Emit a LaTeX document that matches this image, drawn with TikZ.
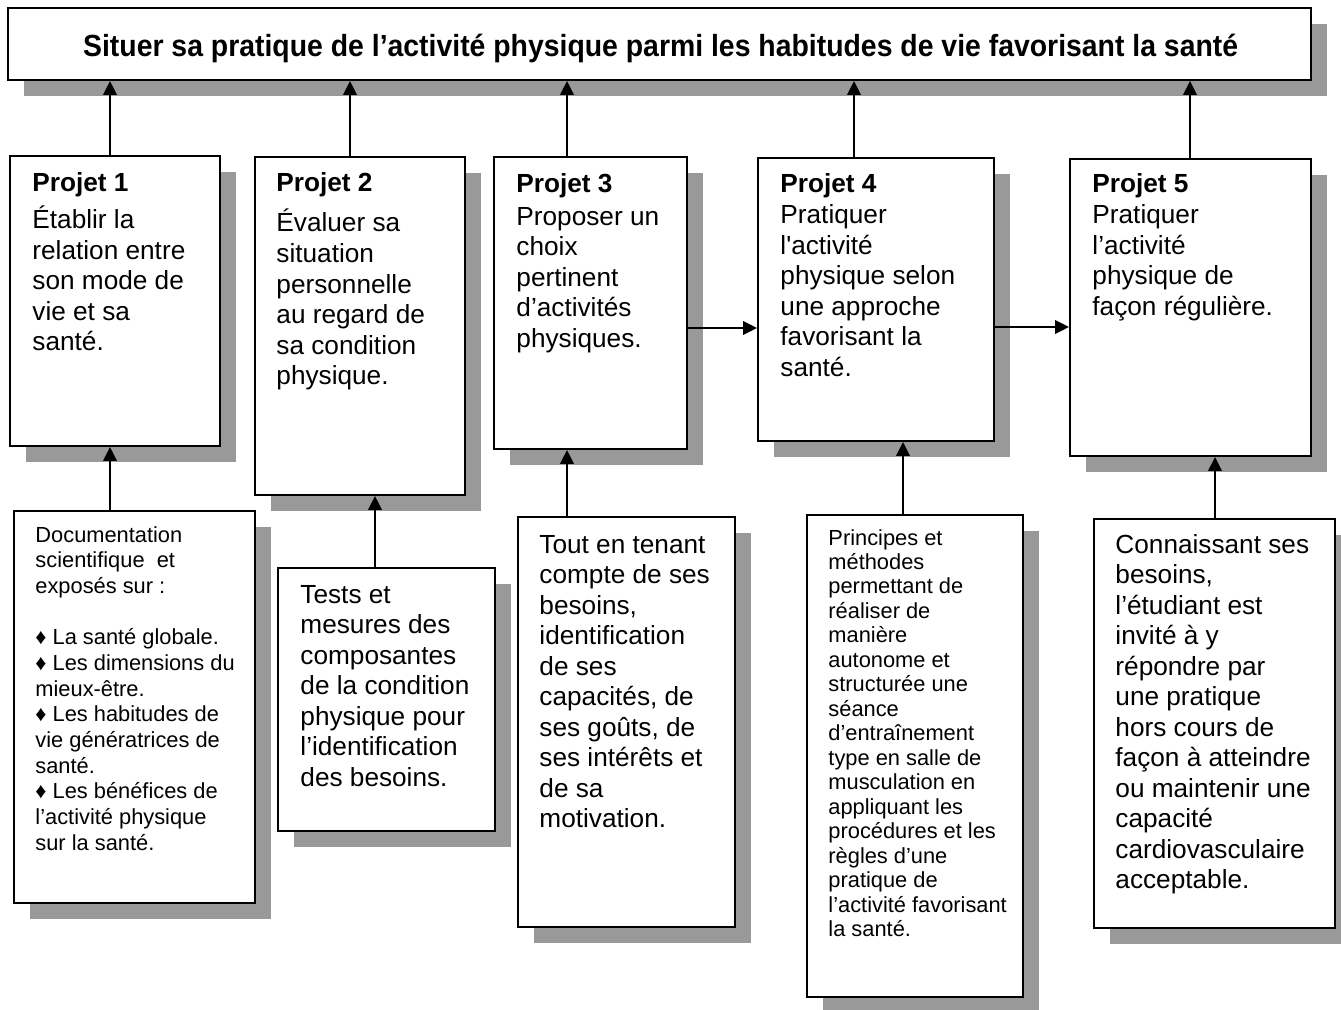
\documentclass[tikz,border=0pt]{standalone}
\usepackage{fontspec}
\newfontfamily\arialf{Liberation Sans}
\usetikzlibrary{arrows.meta,fit,shadows}
\definecolor{shadowc}{HTML}{999999}
\newsavebox\ttlbox
\newlength\ttlw
\newcommand\ptf{\arialf\fontsize{12}{13.97}\selectfont}
\newcommand\sfA{\arialf\fontsize{10}{11.77}\selectfont}
\newcommand\sfB{\arialf\fontsize{10}{11.22}\selectfont}
\begin{document}%
\sbox\ttlbox{\arialf\bfseries\fontsize{14}{16}\selectfont Situer sa pratique de l’activité physique parmi les habitudes de vie favorisant la santé}%
\setlength\ttlw{\wd\ttlbox}%
\pgfmathsetmacro\tsx{528.99/\ttlw}%
\begin{tikzpicture}[x=0.458pt,y=-0.458pt,
  box/.style={draw=black, line width=0.9pt, fill=white, inner sep=0pt,
    drop shadow={shadow xshift=7.33pt, shadow yshift=-7.33pt, fill=shadowc, opacity=1}},
  arr/.style={line width=0.9pt, -{Triangle[length=6.4pt,width=6.2pt]}},
  txt/.style={anchor=base west, inner sep=0pt}]
\useasboundingbox (0,0) rectangle (1341,1010);
% boxes
\node[box, fit={(8,8) (1311,80)}] (tbox) {};
\node[box, fit={(10,156) (220,446)}] (p1) {};
\node[box, fit={(255,157) (465,495)}] (p2) {};
\node[box, fit={(494,157) (687,449)}] (p3) {};
\node[box, fit={(758,158) (994,441)}] (p4) {};
\node[box, fit={(1070,159) (1311,456)}] (p5) {};
\node[box, fit={(14,511) (255,903)}] (b1) {};
\node[box, fit={(278,568) (495,831)}] (b2) {};
\node[box, fit={(518,517) (735,927)}] (b3) {};
\node[box, fit={(807,515) (1023,997)}] (b4) {};
\node[box, fit={(1094,519) (1335,928)}] (b5) {};
% title
\node[txt] (ttl) at (82.7,57) {\scalebox{\tsx}[1]{\usebox\ttlbox}};
% project texts
\node[txt] (p1t) at (32,192) {\parbox[t]{200pt}{\ptf\textbf{Projet 1}\\[2.9pt]Établir la\\relation entre\\son mode de\\vie et sa\\santé.}};
\node[txt] (p2t) at (276,192) {\parbox[t]{200pt}{\ptf\textbf{Projet 2}\\[4.35pt]Évaluer sa\\situation\\personnelle\\au regard de\\sa condition\\physique.}};
\node[txt] (p3t) at (516,193) {\parbox[t]{200pt}{\ptf\textbf{Projet 3}\\[0.9pt]Proposer un\\choix\\pertinent\\d’activités\\physiques.}};
\node[txt] (p4t) at (780,193) {\parbox[t]{200pt}{\ptf\textbf{Projet 4}\\Pratiquer\\l'activité\\physique selon\\une approche\\favorisant la\\santé.}};
\node[txt] (p5t) at (1092,193) {\parbox[t]{200pt}{\ptf\textbf{Projet 5}\\Pratiquer\\l’activité\\physique de\\façon régulière.}};
% bottom texts
\node[txt] (b1t) at (35,542) {\parbox[t]{200pt}{\sfA Documentation\\scientifique~ et\\exposés sur :\\\mbox{}\\♦ La santé globale.\\♦ Les dimensions du\\mieux-être.\\♦ Les habitudes de\\vie génératrices de\\santé.\\♦ Les bénéfices de\\l’activité physique\\sur la santé.}};
\node[txt] (b2t) at (300,603) {\parbox[t]{200pt}{\ptf Tests et\\mesures des\\composantes\\de la condition\\physique pour\\l’identification\\des besoins.}};
\node[txt] (b3t) at (539,553) {\parbox[t]{200pt}{\ptf Tout en tenant\\compte de ses\\besoins,\\identification\\de ses\\capacités, de\\ses goûts, de\\ses intérêts et\\de sa\\motivation.}};
\node[txt] (b4t) at (828,545) {\parbox[t]{200pt}{\sfB Principes et\\méthodes\\permettant de\\réaliser de\\manière\\autonome et\\structurée une\\séance\\d’entraînement\\type en salle de\\musculation en\\appliquant les\\procédures et les\\règles d’une\\pratique de\\l’activité favorisant\\la santé.}};
\node[txt] (b5t) at (1115,553) {\parbox[t]{200pt}{\ptf Connaissant ses\\besoins,\\l’étudiant est\\invité à y\\répondre par\\une pratique\\hors cours de\\façon à atteindre\\ou maintenir une\\capacité\\cardiovasculaire\\acceptable.}};
% arrows up to title
\draw[arr] (110,0 |- p1.north) -- (110,0 |- tbox.south);
\draw[arr] (350,0 |- p2.north) -- (350,0 |- tbox.south);
\draw[arr] (567,0 |- p3.north) -- (567,0 |- tbox.south);
\draw[arr] (854,0 |- p4.north) -- (854,0 |- tbox.south);
\draw[arr] (1190,0 |- p5.north) -- (1190,0 |- tbox.south);
% arrows from bottom boxes
\draw[arr] (110,0 |- b1.north) -- (110,0 |- p1.south);
\draw[arr] (375,0 |- b2.north) -- (375,0 |- p2.south);
\draw[arr] (567,0 |- b3.north) -- (567,0 |- p3.south);
\draw[arr] (903,0 |- b4.north) -- (903,0 |- p4.south);
\draw[arr] (1215,0 |- b5.north) -- (1215,0 |- p5.south);
% horizontal arrows
\draw[arr] (p3.east |- 0,328) -- (p4.west |- 0,328);
\draw[arr] (p4.east |- 0,327) -- (p5.west |- 0,327);
\end{tikzpicture}%
\end{document}
